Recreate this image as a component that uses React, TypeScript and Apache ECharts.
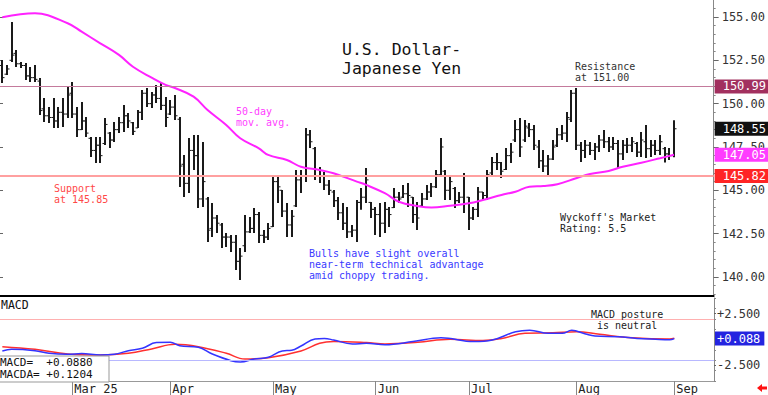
import React, { useEffect, useRef } from "react";
import * as echarts from "echarts";

const SLOTS = 153;
const monthTickIdx = [15, 36, 58, 80, 100, 123, 144];
const monthTickLabels = ["Mar 25", "Apr", "May", "Jun", "Jul", "Aug", "Sep"];

const opens = [
  152.2, 151.7, 152.5, 152.9, 152.3, 152.2, 151.6, 151.5, 151.3, 149.7,
  149.3, 149.2, 149.0, 149.5, 149.4, 150.6, 149.4, 148.5, 149.0, 148.0,
  147.3, 147.6, 147.7, 148.3, 147.9, 148.5, 148.9, 149.3, 148.9, 148.6,
  149.5, 150.6, 150.0, 150.5, 150.3, 149.9, 149.4, 149.8, 149.1, 146.5,
  145.4, 147.3, 147.0, 144.5, 144.5, 142.8, 143.4, 143.0, 142.3, 142.3,
  142.0, 140.9, 141.8, 142.6, 142.8, 143.6, 142.4, 142.3, 142.9, 145.5,
  145.0, 143.8, 143.0, 144.1, 145.6, 145.8, 148.2, 147.4, 146.2, 145.8,
  145.3, 144.9, 144.4, 143.7, 143.1, 142.6, 142.7, 144.3, 144.6, 144.3,
  143.9, 143.6, 143.1, 143.9, 144.0, 144.6, 144.6, 144.8, 144.6, 143.6,
  144.1, 144.5, 144.9, 145.2, 145.9, 146.1, 145.0, 145.1, 144.4, 144.6,
  144.6, 143.4, 143.9, 144.9, 144.7, 146.0, 146.6, 146.6, 146.2, 147.0,
  147.9, 148.5, 147.9, 148.6, 148.5, 147.5, 146.7, 146.4, 146.8, 147.6,
  148.2, 148.3, 149.1, 150.6, 147.6, 147.3, 147.6, 147.3, 147.5, 147.9,
  147.8, 147.5, 147.7, 147.1, 147.6, 147.6, 147.7, 147.2, 147.8, 147.4,
  147.6, 147.3, 147.4, 147.1, 147.0,
];
const highs = [
  152.52, 152.23, 154.71, 153.10, 152.40, 152.35, 152.11, 152.23, 151.48, 150.33,
  149.81, 150.33, 149.81, 150.33, 150.96, 151.25, 149.81, 150.10, 149.23, 148.08,
  148.08, 148.08, 149.17, 148.36, 148.94, 149.23, 149.92, 149.46, 148.94, 149.63,
  150.79, 150.90, 150.67, 151.08, 151.19, 150.38, 150.21, 150.50, 149.23, 147.04,
  148.02, 148.19, 148.19, 147.79, 144.61, 144.27, 143.57, 143.11, 142.54, 142.42,
  142.42, 141.67, 143.57, 143.46, 143.98, 143.75, 142.71, 143.11, 145.88, 145.88,
  145.02, 144.27, 143.86, 146.17, 146.17, 148.59, 148.48, 147.50, 146.34, 146.06,
  145.60, 145.02, 144.61, 144.27, 144.04, 143.00, 144.44, 145.13, 146.29, 144.33,
  144.04, 144.27, 144.33, 144.04, 145.13, 144.90, 145.31, 145.42, 144.61, 144.33,
  144.84, 145.31, 145.42, 146.17, 148.02, 146.17, 145.88, 145.19, 144.90, 146.00,
  144.61, 144.04, 145.19, 144.90, 146.17, 146.92, 147.15, 146.63, 147.44, 147.73,
  149.06, 149.17, 149.06, 148.88, 148.77, 147.90, 147.33, 147.04, 147.90, 148.59,
  148.77, 149.52, 150.79, 150.90, 147.79, 147.90, 147.79, 147.73, 148.19, 148.48,
  148.08, 148.08, 147.90, 147.90, 148.02, 148.08, 147.79, 148.36, 148.77, 147.90,
  147.90, 148.19, 147.50, 147.44, 149.04,
];
const lows = [
  151.19, 151.65, 152.40, 152.11, 152.06, 151.37, 151.25, 151.25, 149.35, 148.94,
  148.88, 148.59, 148.59, 148.65, 149.17, 149.17, 148.08, 148.48, 148.08, 146.92,
  146.57, 146.57, 147.61, 147.44, 147.79, 148.31, 148.36, 148.59, 148.19, 148.59,
  149.06, 149.81, 149.75, 150.04, 149.63, 148.65, 149.35, 149.06, 145.19, 144.61,
  144.84, 146.17, 143.98, 144.04, 142.02, 142.31, 142.54, 141.67, 141.73, 141.44,
  140.40, 139.82, 141.44, 142.54, 142.54, 141.96, 141.96, 142.13, 142.88, 144.27,
  143.46, 142.31, 142.31, 144.04, 144.84, 145.48, 147.44, 145.59, 145.42, 145.02,
  144.73, 144.04, 143.29, 142.71, 142.25, 142.31, 142.02, 143.87, 144.27, 143.40,
  142.42, 142.31, 142.54, 142.88, 143.98, 144.27, 144.56, 144.04, 143.11, 142.71,
  144.04, 144.44, 144.61, 145.13, 145.77, 144.44, 144.44, 143.98, 144.27, 143.69,
  142.71, 143.29, 143.46, 144.44, 144.44, 145.88, 146.17, 145.71, 146.17, 146.57,
  147.79, 146.92, 147.79, 148.08, 147.33, 146.29, 146.06, 145.77, 146.75, 147.50,
  147.90, 147.79, 148.94, 147.33, 146.63, 146.86, 147.04, 146.75, 147.21, 147.44,
  147.21, 147.33, 146.29, 146.75, 147.15, 147.21, 146.92, 146.92, 146.86, 146.92,
  147.04, 147.04, 146.61, 146.75, 146.90,
];
const closes = [
  151.5, 152.0, 152.8, 152.3, 152.2, 151.6, 151.5, 151.4, 149.6, 149.3,
  149.2, 149.0, 149.5, 149.4, 150.5, 149.4, 148.5, 149.0, 148.3, 147.3,
  147.6, 147.0, 148.8, 147.9, 148.5, 148.9, 149.3, 149.0, 148.4, 149.5,
  150.6, 150.0, 150.5, 150.3, 149.9, 149.2, 149.8, 149.3, 146.4, 145.4,
  147.3, 147.0, 144.5, 145.5, 142.7, 143.4, 143.1, 142.3, 142.3, 142.0,
  140.9, 141.2, 142.6, 142.8, 143.6, 142.4, 142.3, 142.8, 145.5, 145.2,
  143.8, 143.0, 143.5, 145.6, 145.8, 148.2, 147.8, 146.2, 145.8, 145.3,
  145.0, 144.4, 143.7, 143.1, 142.6, 142.7, 144.3, 144.6, 145.6, 143.9,
  143.6, 143.1, 143.9, 143.6, 144.6, 144.5, 144.8, 144.7, 143.6, 143.4,
  144.5, 144.9, 145.2, 145.9, 147.5, 145.0, 145.5, 144.4, 144.6, 145.8,
  143.4, 143.9, 144.9, 144.7, 145.9, 146.6, 146.6, 146.1, 147.0, 147.2,
  148.5, 147.5, 148.7, 148.5, 147.6, 146.7, 146.4, 146.8, 147.5, 148.2,
  148.3, 149.2, 150.6, 147.6, 147.3, 147.6, 147.3, 147.5, 147.9, 147.8,
  147.5, 147.7, 147.1, 147.6, 147.6, 147.8, 147.2, 147.9, 147.4, 147.6,
  147.3, 147.8, 147.1, 147.0, 148.55,
];

const maIdx = [0, 7, 14, 17, 21, 25, 28, 32, 35, 37, 41, 44, 48, 51, 55, 57, 61, 64, 68, 71, 76, 78, 82, 85, 89, 92, 96, 100, 103, 107, 110, 113, 116, 119, 123, 126, 130, 133, 137, 141, 144];
const maVal = [154.98, 155.21, 154.64, 154.15, 153.48, 152.81, 152.13, 151.5, 151.08, 150.9, 150.4, 149.63, 148.77, 148.0, 147.42, 147.04, 146.75, 146.36, 146.17, 145.98, 145.5, 145.31, 144.83, 144.34, 144.09, 144.0, 144.11, 144.25, 144.44, 144.73, 144.92, 145.21, 145.25, 145.35, 145.69, 145.94, 146.11, 146.36, 146.59, 146.85, 147.05];

const macdIdx = [0, 2, 7, 10, 14, 17, 21, 24, 27, 30, 33, 36, 38, 42, 45, 49, 51, 54, 57, 60, 62, 64, 67, 69, 71, 75, 78, 82, 88, 94, 101, 105, 110, 113, 117, 120, 122, 125, 127, 132, 136, 140, 143, 144];
const macdVal = [-1.1, -0.95, -1.08, -1.33, -1.43, -1.36, -1.5, -1.43, -1.08, -0.85, -0.3, -0.27, -0.6, -0.75, -1.4, -2.04, -2.16, -1.88, -1.71, -1.1, -1.04, -0.63, 0.05, 0.1, -0.05, -0.43, -0.37, -0.5, -0.2, 0.17, -0.2, -0.05, 0.75, 0.9, 0.6, 0.6, 0.88, 0.53, 0.34, 0.27, 0.1, 0.02, -0.02, 0.088];
const signalIdx = [0, 7, 14, 21, 27, 32, 37, 42, 48, 52, 57, 64, 68, 71, 78, 82, 89, 96, 103, 107, 112, 118, 123, 128, 135, 143, 144];
const signalVal = [-0.69, -0.95, -1.4, -1.5, -1.33, -0.91, -0.46, -0.69, -1.33, -1.88, -1.75, -1.1, -0.37, -0.2, -0.3, -0.43, -0.27, 0.02, -0.1, 0.1, 0.6, 0.65, 0.75, 0.5, 0.17, 0.05, 0.12];

const priceTicks = [140, 142.5, 145, 147.5, 150, 152.5, 155];
const priceMinorTicks = [139, 139.5, 140.5, 141, 141.5, 142, 143, 143.5, 144, 144.5, 145.5, 146, 146.5, 147, 148, 148.5, 149, 149.5, 150.5, 151, 151.5, 152, 153, 153.5, 154, 154.5, 155.5];
const macdTicks = [2.5, -2.5];
const macdMinorTicks = [-4, -3, -2, -1, 0, 1, 2, 3, 4];
const resistance = 150.99;
const support = 145.82;
const lastClose = 148.55;
const maLast = 147.05;
const macdLast = 0.088;
const macdUpper = 2;
const macdLower = -2;

const MONO = '"DejaVu Sans Mono", monospace';

export default function App() {
  const ref = useRef<HTMLDivElement>(null);
  useEffect(() => {
    if (!ref.current) return;
    const chart = echarts.init(ref.current, null, { renderer: "svg" });
    const categories: string[] = [];
    for (let i = 0; i < SLOTS; i++) {
      const k = monthTickIdx.indexOf(i);
      categories.push(k >= 0 ? monthTickLabels[k] : "");
    }
    const ohlc = opens.map((o, i) => [i, o, highs[i], lows[i], closes[i]]);
    const ma = maIdx.map((x, i) => [x, maVal[i]]);
    const macd = macdIdx.map((x, i) => [x, macdVal[i]]);
    const sig = signalIdx.map((x, i) => [x, signalVal[i]]);
    const isTick = (idx: number) => monthTickIdx.indexOf(idx) >= 0;
    const boxLabel = (txt: string, bg: string) => ({
      show: true,
      position: "end",
      distance: 1,
      formatter: txt,
      color: "#fff",
      backgroundColor: bg,
      fontFamily: MONO,
      fontSize: 12,
      lineHeight: 13,
      padding: [1, 4, 0, 8],
    });
    const hidden = { width: 0, color: "rgba(0,0,0,0)" };
    const pMin = 138.9;
    const pMax = 155.98;
    const txt = (x: number, y: number, text: string, fill: string, size: number) => ({
      type: "text",
      x,
      y,
      z: 10,
      style: { text, fill, font: `${size}px ${MONO}`, verticalAlign: "middle" },
    });

    chart.setOption({
      animation: false,
      backgroundColor: "#fff",
      grid: [
        { left: 0, right: 54, top: 0, height: 296 },
        { left: 0, right: 54, top: 298, height: 83 },
      ],
      xAxis: [
        {
          type: "category",
          gridIndex: 0,
          data: categories,
          boundaryGap: true,
          axisLine: { onZero: false, lineStyle: { color: "#000", width: 2 } },
          axisTick: { show: false },
          axisLabel: { show: false },
          splitLine: { show: false },
        },
        {
          type: "category",
          gridIndex: 1,
          data: categories,
          boundaryGap: true,
          axisLine: { onZero: false, lineStyle: { color: "#999", width: 1 } },
          axisTick: {
            show: true,
            alignWithLabel: true,
            interval: (idx: number) => isTick(idx),
            length: 14,
            lineStyle: { color: "#888" },
          },
          axisLabel: {
            interval: (idx: number) => isTick(idx),
            align: "left",
            margin: 2,
            padding: [0, 0, 0, 2],
            fontFamily: MONO,
            fontSize: 12,
            color: "#222",
          },
          splitLine: { show: false },
        },
      ],
      yAxis: [
        {
          type: "value",
          gridIndex: 0,
          position: "right",
          min: pMin,
          max: pMax,
          axisLine: { show: true, lineStyle: { color: "#888" } },
          axisTick: { show: true, customValues: priceTicks, length: 5, lineStyle: { color: "#666" } },
          axisLabel: {
            customValues: priceTicks,
            formatter: (v: number) => v.toFixed(2),
            margin: 8,
            fontFamily: MONO,
            fontSize: 12,
            color: "#333",
          },
          splitLine: { show: false },
        },
        {
          type: "value",
          gridIndex: 0,
          position: "right",
          min: pMin,
          max: pMax,
          axisLine: { show: false },
          axisTick: { show: true, customValues: priceMinorTicks, length: 2, lineStyle: { color: "#888" } },
          axisLabel: { show: false },
          splitLine: { show: false },
        },
        {
          type: "value",
          gridIndex: 0,
          position: "left",
          min: pMin,
          max: pMax,
          axisLine: { show: false },
          axisTick: { show: true, inside: true, customValues: priceTicks, length: 3, lineStyle: { color: "#666" } },
          axisLabel: { show: false },
          splitLine: { show: false },
        },
        {
          type: "value",
          gridIndex: 1,
          position: "right",
          min: -4,
          max: 4,
          axisLine: { show: true, lineStyle: { color: "#888" } },
          axisTick: { show: true, customValues: macdTicks, length: 2, lineStyle: { color: "#666" } },
          axisLabel: {
            customValues: macdTicks,
            formatter: (v: number) => (v > 0 ? "+" : "-") + Math.abs(v).toFixed(3),
            margin: 3,
            fontFamily: MONO,
            fontSize: 12,
            color: "#333",
          },
          splitLine: { show: false },
        },
        {
          type: "value",
          gridIndex: 1,
          position: "right",
          min: -4,
          max: 4,
          axisLine: { show: false },
          axisTick: { show: true, customValues: macdMinorTicks, length: 2, lineStyle: { color: "#888" } },
          axisLabel: { show: false },
          splitLine: { show: false },
        },
      ],
      series: [
        {
          type: "line",
          xAxisIndex: 0,
          yAxisIndex: 0,
          data: [],
          z: 1,
          markLine: {
            silent: true,
            symbol: "none",
            data: [
              { yAxis: resistance, lineStyle: { color: "#c47a9c", width: 1, type: "solid" }, label: boxLabel(resistance.toFixed(2), "#a2305f") },
              { yAxis: support, lineStyle: { color: "#ffa0a0", width: 2, type: "solid" }, label: boxLabel(support.toFixed(2), "#ff2525") },
              { yAxis: lastClose, lineStyle: hidden, label: boxLabel(lastClose.toFixed(2), "#111") },
              { yAxis: maLast, lineStyle: hidden, label: boxLabel(maLast.toFixed(2), "#ff3cff") },
            ],
          },
        },
        {
          type: "custom",
          xAxisIndex: 0,
          yAxisIndex: 0,
          z: 3,
          data: ohlc,
          encode: { x: 0, y: [1, 2, 3, 4] },
          renderItem: (params: any, api: any) => {
            const i = api.value(0);
            const pH = api.coord([i, api.value(2)]);
            const pL = api.coord([i, api.value(3)]);
            const pO = api.coord([i, api.value(1)]);
            const pC = api.coord([i, api.value(4)]);
            const x = Math.round(pH[0]);
            return {
              type: "group",
              children: [
                { type: "line", shape: { x1: x, y1: pH[1], x2: x, y2: pL[1] }, style: { stroke: "#1a1a1a", lineWidth: 2 } },
                { type: "line", shape: { x1: x - 2.5, y1: pO[1], x2: x, y2: pO[1] }, style: { stroke: "#1a1a1a", lineWidth: 1 } },
                { type: "line", shape: { x1: x, y1: pC[1], x2: x + 2.5, y2: pC[1] }, style: { stroke: "#1a1a1a", lineWidth: 1 } },
              ],
            };
          },
        },
        {
          type: "line",
          xAxisIndex: 0,
          yAxisIndex: 0,
          data: ma,
          smooth: 0.4,
          showSymbol: false,
          z: 4,
          lineStyle: { color: "#ff22ff", width: 2 },
        },
        {
          type: "line",
          xAxisIndex: 1,
          yAxisIndex: 3,
          data: [],
          z: 1,
          markLine: {
            silent: true,
            symbol: "none",
            data: [
              { yAxis: macdUpper, lineStyle: { color: "#ffb0b0", width: 1, type: "solid" }, label: { show: false } },
              { yAxis: macdLower, lineStyle: { color: "#b8b8ff", width: 1, type: "solid" }, label: { show: false } },
              { yAxis: macdLast, lineStyle: hidden, label: { ...boxLabel("+" + macdLast.toFixed(3), "#2424e0"), padding: [1, 4, 0, 2] } },
            ],
          },
        },
        {
          type: "line",
          xAxisIndex: 1,
          yAxisIndex: 3,
          data: sig,
          smooth: 0.4,
          showSymbol: false,
          z: 3,
          lineStyle: { color: "#ff3030", width: 1.5 },
        },
        {
          type: "line",
          xAxisIndex: 1,
          yAxisIndex: 3,
          data: macd,
          smooth: 0.4,
          showSymbol: false,
          z: 4,
          lineStyle: { color: "#3434ff", width: 1.5 },
        },
      ],
      graphic: [
        txt(342, 49.5, "U.S. Dollar-", "#111", 16.5),
        txt(342, 68.5, "Japanese Yen", "#111", 16.5),
        txt(575, 66, "Resistance", "#333", 10),
        txt(575, 77, "at 151.00", "#333", 10),
        txt(236, 111, "50-day", "#ff40ff", 10),
        txt(236, 122, "mov. avg.", "#ff40ff", 10),
        txt(54, 188, "Support", "#ff4848", 10),
        txt(54, 199, "at 145.85", "#ff4848", 10),
        txt(309, 253, "Bulls have slight overall", "#3a3aff", 10),
        txt(309, 264, "near-term technical advantage", "#3a3aff", 10),
        txt(309, 275, "amid choppy trading.", "#3a3aff", 10),
        txt(560, 217, "Wyckoff's Market", "#222", 10),
        txt(560, 228, "Rating: 5.5", "#222", 10),
        txt(1, 305, "MACD", "#111", 11.5),
        txt(591, 314, "MACD posture", "#222", 10),
        txt(597, 325, "is neutral", "#222", 10),
        { type: "rect", z: 9, shape: { x: -1, y: 356, width: 110, height: 26 }, style: { fill: "#fff", stroke: "#999", lineWidth: 1 } },
        txt(0, 362, "MACD=  +0.0880", "#111", 11),
        txt(0, 374, "MACDA= +0.1204", "#111", 11),
        {
          type: "polygon",
          z: 10,
          shape: { points: [[757, 388], [762, 384], [762, 386.5], [767, 386.5], [767, 389.5], [762, 389.5], [762, 392]] },
          style: { fill: "#ff1010" },
        },
      ],
    });
    return () => chart.dispose();
  }, []);
  return <div ref={ref} style={{ position: "fixed", left: 0, top: 0, width: 768, height: 395 }} />;
}
